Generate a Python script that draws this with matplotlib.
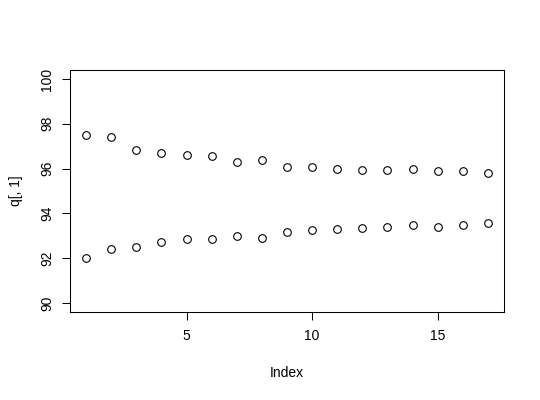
import numpy as np
import matplotlib.pyplot as plt

plt.rcParams['font.family'] = ['Liberation Sans', 'DejaVu Sans']

# values
index = np.arange(1, 18)
upper = [97.50, 97.39, 96.83, 96.71, 96.62, 96.54, 96.31, 96.37, 96.08,
         96.08, 96.00, 95.94, 95.94, 96.00, 95.89, 95.89, 95.80]
lower = [92.01, 92.39, 92.50, 92.72, 92.87, 92.88, 93.00, 92.91, 93.17,
         93.24, 93.29, 93.33, 93.38, 93.48, 93.38, 93.48, 93.55]
xticks = [5, 10, 15]
yticks = [90, 92, 94, 96, 98, 100]

fig = plt.figure(figsize=(5.4, 4), dpi=100)
ax = fig.add_axes([0.1296, 0.22, 0.8037, 0.605])

# R-style open circles
for vals in (upper, lower):
    ax.plot(index, vals, linestyle='none', marker='o', markersize=5.5,
            markerfacecolor='none', markeredgecolor='black', markeredgewidth=0.8)

ax.set_xlim(0.36, 17.64)
ax.set_ylim(89.6, 100.4)
ax.set_xticks(xticks)
ax.set_yticks(yticks)
ax.set_xticklabels([str(t) for t in xticks])
ax.set_yticklabels([str(t) for t in yticks], rotation=90, va='center')

for s in ax.spines.values():
    s.set_linewidth(0.75)
ax.tick_params(direction='out', length=5.5, width=0.75, labelsize=10,
               top=False, right=False)
ax.tick_params(axis='x', pad=7)
ax.tick_params(axis='y', pad=6)

ax.set_xlabel('Index', fontsize=10, va='center')
ax.set_ylabel('q[, 1]', fontsize=10, va='center')
ax.xaxis.set_label_coords(0.5, -0.252)
ax.yaxis.set_label_coords(-0.124, 0.5)

plt.savefig('out.png', dpi=100)
plt.close()
